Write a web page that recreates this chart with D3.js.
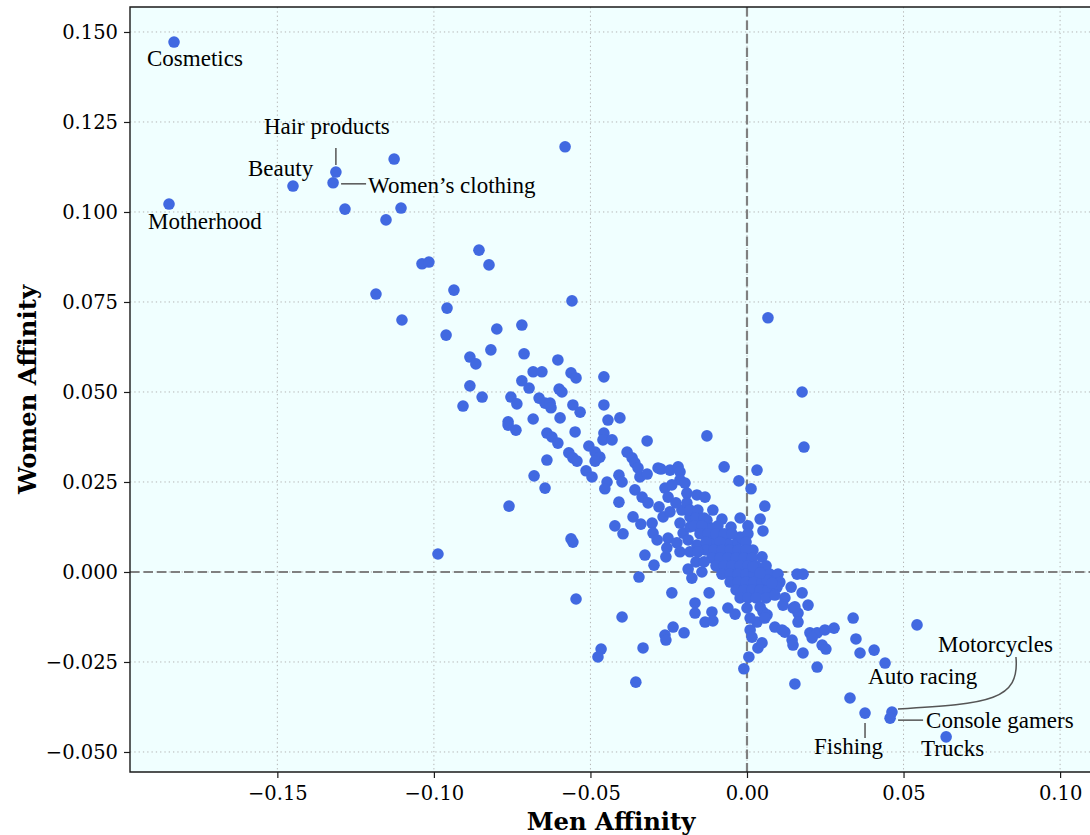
<!DOCTYPE html>
<html>
<head>
<meta charset="utf-8">
<script src="https://cdn.jsdelivr.net/npm/d3@7"></script>
<style>
  body { margin: 0; background: #fff; }
  svg { display: block; }
</style>
</head>
<body>
<svg id="chart" width="1090" height="835"></svg>
<script>
// Affinity of each interest topic: [men affinity, women affinity]
const womenLeaning = [
  [-0.1127,0.1147],[-0.1284,0.1008],[-0.1105,0.1011],[-0.1153,0.0978],[-0.0581,0.1181],
  [-0.1038,0.0856],[-0.1016,0.0861],[-0.0856,0.0894],[-0.0824,0.0853],[-0.1185,0.0772],
  [-0.0936,0.0783],[-0.0559,0.0753],[-0.0958,0.0733],[-0.1102,0.0700],[-0.0961,0.0658],
  [-0.0799,0.0675],[-0.0719,0.0686],[-0.0818,0.0617],[-0.0885,0.0597],[-0.0866,0.0578],
  [-0.0712,0.0606],[-0.0604,0.0589],[-0.0683,0.0556],[-0.0655,0.0556],[-0.0562,0.0553],
  [-0.0546,0.0539],[-0.0457,0.0542],[-0.0885,0.0517],[-0.0719,0.0531],[-0.0696,0.0511],
  [-0.0600,0.0508],[-0.0591,0.0500],[-0.0846,0.0486],[-0.0907,0.0461],[-0.0754,0.0486],
  [-0.0735,0.0467],[-0.0664,0.0483],[-0.0645,0.0469],[-0.0629,0.0469],[-0.0626,0.0456],
  [-0.0556,0.0464],[-0.0533,0.0444],[-0.0457,0.0464],[-0.0683,0.0425],[-0.0597,0.0428],
  [-0.0444,0.0422],[-0.0406,0.0428],[-0.0763,0.0417],[-0.0763,0.0408],[-0.0738,0.0394],
  [-0.0549,0.0389],[-0.0639,0.0386],[-0.0623,0.0375],[-0.0604,0.0358],[-0.0457,0.0386],
  [-0.0460,0.0367],[-0.0431,0.0367],[-0.0319,0.0364],[-0.0505,0.0350],[-0.0485,0.0333],
  [-0.0470,0.0319],[-0.0485,0.0308],[-0.0569,0.0331],[-0.0556,0.0317],[-0.0543,0.0308],
  [-0.0639,0.0311],[-0.0383,0.0333],[-0.0367,0.0317],[-0.0358,0.0303],[-0.0348,0.0289],
  [-0.0342,0.0264],[-0.0319,0.0272],[-0.0284,0.0289],[-0.0514,0.0281],[-0.0495,0.0264],
  [-0.0680,0.0267],[-0.0645,0.0233],[-0.0447,0.0250],[-0.0454,0.0231],[-0.0409,0.0269],
  [-0.0399,0.0250],[-0.0358,0.0228],[-0.0335,0.0208],[-0.0316,0.0192],[-0.0409,0.0194],
  [-0.0760,0.0183],[-0.0128,0.0378],[-0.0275,0.0286],[-0.0246,0.0283],[-0.0220,0.0292],
  [-0.0214,0.0278],[-0.0073,0.0292],[0.0032,0.0283],[-0.0026,0.0253],[0.0013,0.0231],
  [0.0067,0.0706],[0.0176,0.0500],[0.0182,0.0347],[-0.0987,0.0050],
  [-0.0556,0.0083],[-0.0562,0.0092]
];

const neutral = [
  [-0.0262,0.0233],[-0.0252,0.0208],[-0.0214,0.0256],[-0.0198,0.0247],[-0.0192,0.0219],
  [-0.0160,0.0214],[-0.0134,0.0208],[-0.0109,0.0172],[0.0057,0.0183],[-0.0281,0.0181],
  [-0.0268,0.0153],[-0.0246,0.0167],[-0.0208,0.0172],[-0.0192,0.0192],[-0.0182,0.0153],
  [-0.0364,0.0153],[-0.0339,0.0133],[-0.0422,0.0128],[-0.0396,0.0106],[-0.0080,0.0147],
  [-0.0051,0.0125],[0.0042,0.0147],[0.0051,0.0114],[-0.0303,0.0136],[-0.0300,0.0108],
  [-0.0287,0.0089],[-0.0214,0.0136],[-0.0204,0.0108],[-0.0182,0.0125],[-0.0128,0.0144],
  [-0.0112,0.0122],[-0.0022,0.0097],[-0.0032,0.0081],[-0.0252,0.0094],[-0.0224,0.0081],
  [-0.0160,0.0075],[-0.0109,0.0081],[-0.0064,0.0081],[0.0019,0.0061],[-0.0016,0.0094],
  [0.0048,0.0042],[-0.0259,0.0042],[-0.0214,0.0056],[-0.0188,0.0008],[-0.0176,-0.0017],
  [-0.0326,0.0047],[-0.0297,0.0019],[-0.0256,0.0067],[-0.0144,0.0000],[-0.0345,-0.0014],
  [-0.0182,0.0172],[-0.0157,0.0172],[-0.0163,0.0150],[-0.0137,0.0150],[-0.0022,0.0150],
  [-0.0169,0.0128],[-0.0144,0.0128],[-0.0093,0.0128],[0.0003,0.0128],
  [-0.0150,0.0106],[-0.0125,0.0106],[-0.0099,0.0106],[-0.0073,0.0106],[-0.0048,0.0106],[0.0003,0.0106],
  [-0.0131,0.0083],[-0.0086,0.0083],[-0.0003,0.0083],
  [-0.0131,0.0061],[-0.0105,0.0061],[-0.0080,0.0061],[-0.0054,0.0061],[-0.0029,0.0061],[-0.0003,0.0061],
  [-0.0112,0.0039],[-0.0086,0.0039],[-0.0061,0.0039],[-0.0035,0.0039],[-0.0010,0.0039],[0.0016,0.0039],
  [-0.0099,0.0017],[-0.0073,0.0017],[-0.0048,0.0017],[-0.0022,0.0017],[0.0003,0.0017],[0.0029,0.0017],[0.0061,0.0017],
  [-0.0080,-0.0006],[-0.0054,-0.0006],[-0.0029,-0.0006],[-0.0003,-0.0006],[0.0022,-0.0006],[0.0073,-0.0006],[0.0099,-0.0006],
  [-0.0054,-0.0028],[-0.0029,-0.0028],[-0.0003,-0.0028],[0.0022,-0.0028],[0.0048,-0.0028],[0.0105,-0.0028],
  [-0.0035,-0.0050],[-0.0010,-0.0050],[0.0016,-0.0050],[0.0042,-0.0050],[0.0067,-0.0050],
  [-0.0022,-0.0072],[0.0003,-0.0072],[0.0029,-0.0072],[0.0061,-0.0072],[0.0121,-0.0072],
  [-0.0163,0.0028],[-0.0137,0.0028],[-0.0182,0.0056],[-0.0157,0.0056],[-0.0188,0.0089],
  [-0.0240,0.0242],[-0.0227,0.0192]
];

const menLeaning = [
  [-0.0240,-0.0058],[-0.0121,-0.0058],[-0.0166,-0.0086],[-0.0166,-0.0114],[-0.0112,-0.0111],
  [-0.0061,-0.0100],[-0.0038,-0.0117],[0.0000,-0.0100],[0.0042,-0.0097],[0.0051,-0.0111],
  [0.0096,-0.0042],[0.0089,-0.0064],[0.0141,-0.0042],[0.0160,-0.0006],[0.0179,-0.0006],
  [0.0176,-0.0058],[0.0195,-0.0092],[0.0147,-0.0100],[0.0163,-0.0114],[0.0115,-0.0092],
  [0.0064,-0.0022],[0.0080,-0.0031],[0.0019,0.0014],[0.0042,-0.0003],
  [-0.0546,-0.0075],[-0.0134,-0.0139],[-0.0109,-0.0136],[-0.0399,-0.0125],
  [-0.0236,-0.0153],[-0.0262,-0.0175],[-0.0259,-0.0189],[-0.0201,-0.0169],[-0.0332,-0.0211],
  [-0.0466,-0.0214],[-0.0476,-0.0236],[-0.0355,-0.0306],[0.0010,-0.0161],[0.0016,-0.0181],
  [0.0006,-0.0236],[-0.0010,-0.0269],[0.0035,-0.0211],[0.0032,-0.0139],[0.0153,-0.0097],
  [0.0163,-0.0139],[0.0064,-0.0119],[0.0057,-0.0128],[0.0010,-0.0128],[0.0339,-0.0128],
  [0.0543,-0.0147],[0.0089,-0.0153],[0.0112,-0.0161],[0.0121,-0.0167],[0.0201,-0.0169],
  [0.0224,-0.0169],[0.0249,-0.0161],[0.0278,-0.0156],[0.0208,-0.0183],[0.0144,-0.0189],
  [0.0147,-0.0203],[0.0240,-0.0203],[0.0252,-0.0214],[0.0348,-0.0186],[0.0361,-0.0225],
  [0.0406,-0.0217],[0.0048,-0.0197],[0.0179,-0.0225],[0.0224,-0.0264],[0.0153,-0.0311],
  [0.0329,-0.0350]
];

// Named topics
const labelTopics = ["Cosmetics","Motherhood","Beauty","Hair products","Women\u2019s clothing",
                     "Motorcycles","Auto racing","Console gamers","Fishing","Trucks"];
const labelMen    = [-0.1830,-0.1846,-0.1450,-0.1313,-0.1322, 0.0463, 0.0441, 0.0457, 0.0377, 0.0636];
const labelWomen  = [ 0.1472, 0.1022, 0.1072, 0.1111, 0.1081,-0.0389,-0.0253,-0.0406,-0.0392,-0.0458];

const xTicks = [-0.15, -0.10, -0.05, 0.00, 0.05, 0.10];
const yTicks = [-0.050, -0.025, 0.000, 0.025, 0.050, 0.075, 0.100, 0.125, 0.150];

(function draw() {
  // ---- layout ----
  const pL = 130, pT = 7, pR = 1095, pB = 772;
  const x = d3.scaleLinear().domain([-0.19706, 0.11115]).range([pL, pR]);
  const y = d3.scaleLinear().domain([-0.05556, 0.15694]).range([pB, pT]);

  const svg = d3.select("#chart");
  const tickFont = "'DejaVu Serif', serif";
  const noteFont = "'Liberation Serif', 'Times New Roman', serif";

  svg.append("rect")
    .attr("x", pL).attr("y", pT)
    .attr("width", pR - pL).attr("height", pB - pT)
    .attr("fill", "#F0FFFF");

  // dotted grid
  const grid = svg.append("g").attr("stroke", "#b4b4b4").attr("stroke-width", 1)
    .attr("stroke-dasharray", "1.3,3");
  grid.selectAll(".gx").data(xTicks).join("line")
    .attr("x1", d => x(d)).attr("x2", d => x(d)).attr("y1", pT).attr("y2", pB);
  grid.selectAll(".gy").data(yTicks).join("line")
    .attr("y1", d => y(d)).attr("y2", d => y(d)).attr("x1", pL).attr("x2", pR);

  // zero reference lines
  const zero = svg.append("g").attr("stroke", "#808080").attr("stroke-width", 2.2)
    .attr("stroke-dasharray", "9.5,4");
  zero.append("line").attr("x1", x(0)).attr("x2", x(0)).attr("y1", pT).attr("y2", pB);
  zero.append("line").attr("y1", y(0)).attr("y2", y(0)).attr("x1", pL).attr("x2", pR);

  // points
  const allPoints = womenLeaning.concat(neutral, menLeaning);
  const dotR = 5.8, dotColor = "#4169E1";
  svg.append("g").selectAll("circle").data(allPoints).join("circle")
    .attr("cx", d => x(d[0])).attr("cy", d => y(d[1]))
    .attr("r", dotR).attr("fill", dotColor);

  const labelled = labelTopics.map((t, i) => ({ topic: t, men: labelMen[i], women: labelWomen[i] }));
  svg.append("g").selectAll("circle").data(labelled).join("circle")
    .attr("cx", d => x(d.men)).attr("cy", d => y(d.women))
    .attr("r", dotR).attr("fill", dotColor);

  // label placement relative to each point (text start, baseline)
  const notePlace = {
    "Cosmetics":        { dx: -27, dy: 24 },
    "Motherhood":       { dx: -21, dy: 25 },
    "Beauty":           { dx: -45, dy: -10 },
    "Hair products":    { dx: -72, dy: -38, line: [[0,-24],[0,-7]] },
    "Women\u2019s clothing": { dx: 35, dy: 10, line: [[8,1],[33,1]] },
    "Motorcycles":      { dx: 46, dy: -60, curve: [[6,-3],[98,-8],[128,-12],[124,-55]] },
    "Auto racing":      { dx: -17, dy: 21 },
    "Console gamers":   { dx: 36, dy: 10, line: [[8,2],[33,2]] },
    "Fishing":          { dx: -51, dy: 41, line: [[0,10],[0,25]] },
    "Trucks":           { dx: -25, dy: 19 }
  };

  const notes = svg.append("g");
  labelled.forEach(d => {
    const px = x(d.men), py = y(d.women), p = notePlace[d.topic];
    if (p.line) {
      notes.append("line")
        .attr("x1", px + p.line[0][0]).attr("y1", py + p.line[0][1])
        .attr("x2", px + p.line[1][0]).attr("y2", py + p.line[1][1])
        .attr("stroke", "#555").attr("stroke-width", 1.5);
    }
    if (p.curve) {
      const c = p.curve;
      notes.append("path")
        .attr("d", `M${px + c[0][0]},${py + c[0][1]} C${px + c[1][0]},${py + c[1][1]} ${px + c[2][0]},${py + c[2][1]} ${px + c[3][0]},${py + c[3][1]}`)
        .attr("fill", "none").attr("stroke", "#555").attr("stroke-width", 1.5);
    }
    notes.append("text")
      .attr("x", px + p.dx).attr("y", py + p.dy)
      .attr("font-family", noteFont).attr("font-size", 23)
      .attr("fill", "#000")
      .text(d.topic);
  });

  // axes
  const spineColor = "#1a1a1a";
  const xAxis = svg.append("g").attr("transform", `translate(0,${pB})`)
    .call(d3.axisBottom(x).tickValues(xTicks).tickFormat(d3.format(".2f")).tickSizeOuter(0).tickSize(6).tickPadding(8));
  const yAxis = svg.append("g").attr("transform", `translate(${pL},0)`)
    .call(d3.axisLeft(y).tickValues(yTicks).tickFormat(d3.format(".3f")).tickSizeOuter(0).tickSize(6).tickPadding(6));
  [xAxis, yAxis].forEach(a => {
    a.select(".domain").remove();
    a.selectAll(".tick line").attr("stroke", spineColor).attr("stroke-width", 1.2);
    a.selectAll(".tick text").attr("font-family", tickFont).attr("font-size", 19.5).attr("fill", "#000");
  });

  // spines
  svg.append("path")
    .attr("d", `M${pR},${pT} H${pL} V${pB} H${pR}`)
    .attr("stroke", spineColor).attr("stroke-width", 1.4).attr("fill", "none");

  // axis titles
  svg.append("text")
    .attr("x", 611).attr("y", 830)
    .attr("text-anchor", "middle")
    .attr("font-family", tickFont).attr("font-weight", "bold").attr("font-size", 24.3)
    .attr("fill", "#000")
    .text("Men Affinity");
  svg.append("text")
    .attr("transform", `translate(36,${(pT + pB) / 2}) rotate(-90)`)
    .attr("text-anchor", "middle")
    .attr("font-family", tickFont).attr("font-weight", "bold").attr("font-size", 24.3)
    .attr("fill", "#000")
    .text("Women Affinity");
})();
</script>
</body>
</html>
